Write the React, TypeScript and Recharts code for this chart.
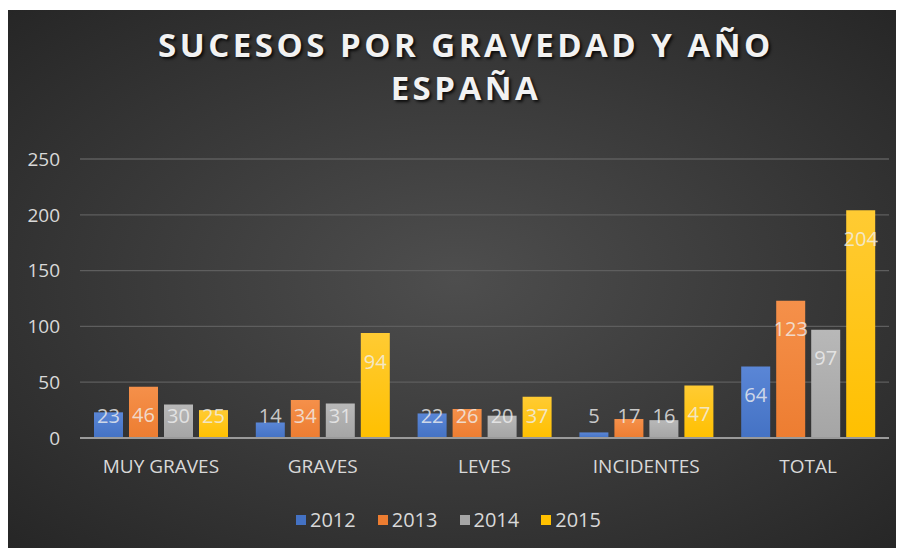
import { BarChart, Bar, XAxis, YAxis, CartesianGrid, Legend, LabelList } from "recharts";

const categories = ["MUY GRAVES", "GRAVES", "LEVES", "INCIDENTES", "TOTAL"];
const years = ["2012", "2013", "2014", "2015"];
const values2012 = [23, 14, 22, 5, 64];
const values2013 = [46, 34, 26, 17, 123];
const values2014 = [30, 31, 20, 16, 97];
const values2015 = [25, 94, 37, 47, 204];
const yTicks = [0, 50, 100, 150, 200, 250];

const colors = ["#4472C4", "#ED7D31", "#A5A5A5", "#FFC000"];
const lightColors = ["#5a86d6", "#f5904a", "#b8b8b8", "#ffcb33"];

const data = categories.map((name, i) => ({
  name,
  "2012": values2012[i],
  "2013": values2013[i],
  "2014": values2014[i],
  "2015": values2015[i],
}));

const FONT = "'Open Sans', 'DejaVu Sans', sans-serif";
const BASE_Y = 428;

const InsideLabel = (props: any) => {
  const { x, y, width, value } = props;
  const cy = Math.min(y + 28, BASE_Y - 23);
  return (
    <text
      x={x + width / 2}
      y={cy}
      textAnchor="middle"
      dominantBaseline="central"
      fill="#f0f0f0"
      fillOpacity={0.8}
      fontSize={20}
      fontFamily={FONT}
    >
      {value}
    </text>
  );
};

const LegendContent = () => (
  <div style={{ display: "flex", justifyContent: "center", gap: 22, fontFamily: FONT, fontSize: 20, color: "#d9d9d9" }}>
    {years.map((yr, i) => (
      <span key={yr} style={{ display: "flex", alignItems: "center" }}>
        <span style={{ width: 10, height: 10, background: colors[i], display: "inline-block", marginRight: 4 }} />
        {yr}
      </span>
    ))}
  </div>
);

export default function App() {
  return (
    <div
      style={{
        position: "relative",
        width: 896,
        height: 538,
        marginTop: 2,
        background: "radial-gradient(ellipse at 50% 50%, #4e4e4e 0%, #3a3a3a 50%, #262626 100%)",
        overflow: "hidden",
      }}
    >
      <div
        style={{
          position: "absolute",
          top: 13,
          left: 0,
          width: 916,
          textAlign: "center",
          fontFamily: FONT,
          fontWeight: 700,
          fontSize: 33,
          lineHeight: "43px",
          letterSpacing: 3.5,
          color: "#f2f2f2",
          textShadow: "2px 2px 3px rgba(0,0,0,0.8)",
        }}
      >
        SUCESOS POR GRAVEDAD Y AÑO
        <br />
        ESPAÑA
      </div>
      <BarChart
        width={896}
        height={538}
        data={data}
        margin={{ top: 149, right: 15, left: 0, bottom: 20 }}
        barCategoryGap={14}
        barGap={6}
      >
        <defs>
          {colors.map((c, i) => (
            <linearGradient key={i} id={`g${i}`} x1="0" y1="0" x2="0" y2="1">
              <stop offset="0%" stopColor={lightColors[i]} />
              <stop offset="100%" stopColor={c} />
            </linearGradient>
          ))}
        </defs>
        <CartesianGrid vertical={false} stroke="#5e5e5e" strokeWidth={1.3} />
        <XAxis
          dataKey="name"
          axisLine={{ stroke: "#9a9a9a", strokeWidth: 2 }}
          tickLine={false}
          tickSize={0}
          tickMargin={22}
          height={50}
          tick={{ fill: "#d9d9d9", fontSize: 19, fontFamily: FONT }}
        />
        <YAxis
          domain={[0, 250]}
          ticks={yTicks}
          width={72}
          axisLine={false}
          tickLine={false}
          tickSize={0}
          tickMargin={20}
          tick={{ fill: "#d9d9d9", fontSize: 19, fontFamily: FONT }}
        />
        <Legend verticalAlign="bottom" height={40} wrapperStyle={{ bottom: 2 }} content={<LegendContent />} />
        {years.map((yr, i) => (
          <Bar key={yr} dataKey={yr} fill={`url(#g${i})`} isAnimationActive={false}>
            <LabelList dataKey={yr} content={<InsideLabel />} />
          </Bar>
        ))}
      </BarChart>
    </div>
  );
}
